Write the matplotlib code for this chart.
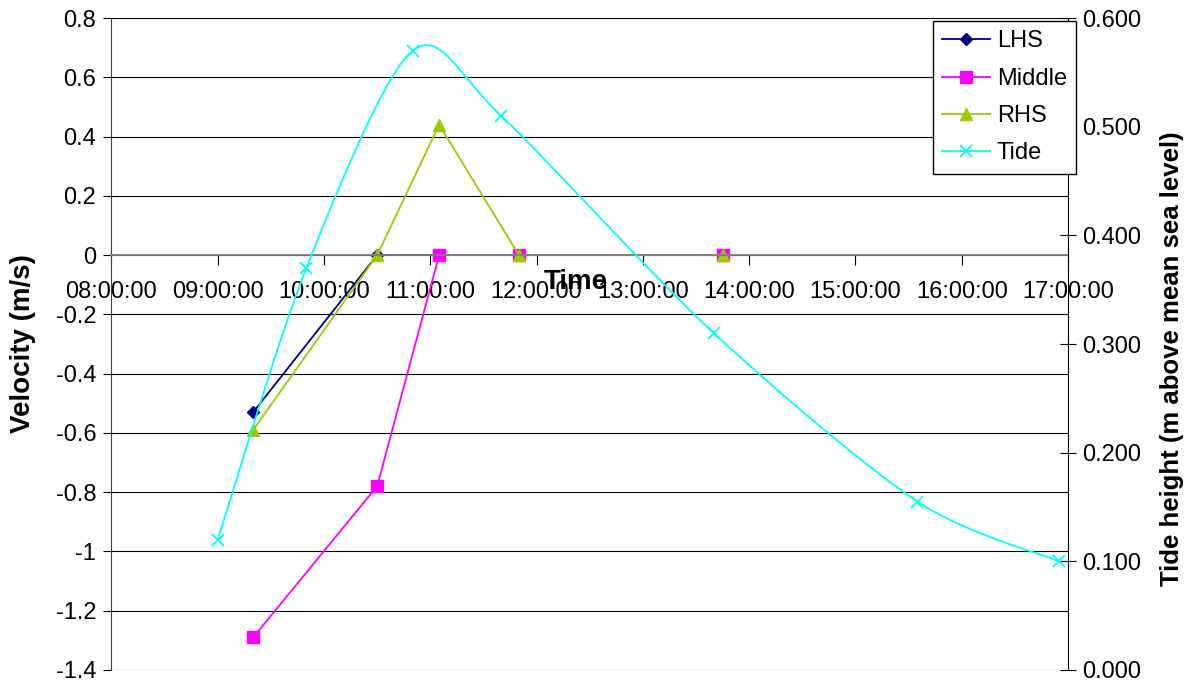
import matplotlib
matplotlib.use("Agg")
import matplotlib.pyplot as plt
from matplotlib.ticker import FuncFormatter, MultipleLocator
import numpy as np

plt.rcParams['font.family'] = ['Liberation Sans', 'DejaVu Sans']
plt.rcParams['axes.unicode_minus'] = False

# velocity readings (m/s) at each survey time
vel_times = ['09:20', '10:30', '11:05', '11:50', '13:45']
lhs = [-0.53, 0.0, 0.0, 0.0, 0.0]
middle = [-1.29, -0.78, 0.0, 0.0, 0.0]
rhs = [-0.59, 0.0, 0.44, 0.0, 0.0]

# tide height (m above mean sea level)
tide_times = ['09:00', '09:50', '10:50', '11:40', '13:40', '15:35', '16:55']
tide = [0.120, 0.370, 0.570, 0.510, 0.310, 0.155, 0.100]

hour_labels = ['%02d:00:00' % h for h in range(8, 18)]


def to_hours(ts):
    return np.array([int(t[:2]) + int(t[3:]) / 60 for t in ts])


def smooth(x, y, n=30, k=7.0):
    # bezier pass through the points, like a spreadsheet "smoothed line"
    p = np.column_stack([x, y])
    pts = [p[0]]
    for i in range(len(p) - 1):
        p0 = p[i - 1] if i > 0 else p[i]
        p3 = p[i + 2] if i + 2 < len(p) else p[i + 1]
        c1 = p[i] + (p[i + 1] - p0) / k
        c2 = p[i + 1] - (p3 - p[i]) / k
        t = np.linspace(0, 1, n)[1:, None]
        seg = ((1 - t) ** 3) * p[i] + 3 * ((1 - t) ** 2) * t * c1 \
            + 3 * (1 - t) * t ** 2 * c2 + t ** 3 * p[i + 1]
        pts.extend(seg)
    pts = np.array(pts)
    return pts[:, 0], pts[:, 1]


vx = to_hours(vel_times)
tx = to_hours(tide_times)

fig = plt.figure(figsize=(11.91, 6.88), dpi=100)
ax = fig.add_axes([0.0936, 0.0262, 0.8031, 0.9476])
ax2 = ax.twinx()

ax.set_xlim(8, 17)
ax.set_ylim(-1.4, 0.8)
ax.yaxis.set_major_locator(MultipleLocator(0.2))
ax.yaxis.set_major_formatter(FuncFormatter(lambda v, p: '%g' % round(v, 1)))
ax.set_xticks(range(8, 18))
ax.set_xticklabels(hour_labels)
ax.grid(axis='y', color='black', lw=0.8)
ax.set_axisbelow(True)

ax.spines['top'].set_visible(False)
ax.spines['right'].set_visible(False)
ax.spines['bottom'].set_position(('data', 0))
ax.spines['bottom'].set_color('#808080')
ax.spines['bottom'].set_linewidth(1.3)
ax.spines['left'].set_color('#404040')
ax.tick_params(axis='y', direction='out', length=6, labelsize=17, pad=5)
ax.tick_params(axis='x', direction='out', length=7, labelsize=17, pad=12,
               color='black')

l1, = ax.plot(vx, lhs, color='#000080', marker='D', ms=6, lw=1.3, label='LHS')
l2, = ax.plot(vx, middle, color='#FF00FF', marker='s', ms=8, lw=1.3,
              label='Middle')
l3, = ax.plot(vx, rhs, color='#99CC00', marker='^', ms=8, lw=1.3, label='RHS')

ax2.set_ylim(0, 0.6)
ax2.yaxis.set_major_locator(MultipleLocator(0.1))
ax2.yaxis.set_major_formatter(FuncFormatter(lambda v, p: '%.3f' % v))
ax2.tick_params(axis='y', direction='inout', length=11, labelsize=17, pad=5)
for s in ['top', 'bottom', 'left']:
    ax2.spines[s].set_visible(False)
ax2.spines['right'].set_color('black')

sx, sy = smooth(tx, tide)
ax2.plot(sx, sy, color='#00FFFF', lw=1.3)
ax2.plot(tx, tide, ls='none', color='#00FFFF', marker='x', ms=8, mew=1.3)
l4, = ax2.plot([], [], color='#00FFFF', marker='x', ms=8, mew=1.3, lw=1.3,
               label='Tide')

ax.set_ylabel('Velocity (m/s)', fontsize=20, fontweight='bold')
ax.yaxis.set_label_coords(-0.079, 0.5)
ax2.set_ylabel('Tide height (m above mean sea level)', fontsize=18.5,
               fontweight='bold')
ax2.yaxis.set_label_coords(1.096, 0.477)
ax.text(0.485, 0.595, 'Time', transform=ax.transAxes, ha='center', va='center',
        fontsize=20, fontweight='bold')

leg = ax2.legend(handles=[l1, l2, l3, l4], loc='upper left',
                 bbox_to_anchor=(933 / 1191, 1 - 21 / 688),
                 bbox_transform=fig.transFigure, fontsize=17, frameon=True,
                 fancybox=False, edgecolor='black', framealpha=1,
                 borderpad=0.4, labelspacing=0.65, handlelength=2.0,
                 handletextpad=0.3, borderaxespad=0)
leg.get_frame().set_linewidth(1.0)

fig.savefig('out.png', dpi=100)
